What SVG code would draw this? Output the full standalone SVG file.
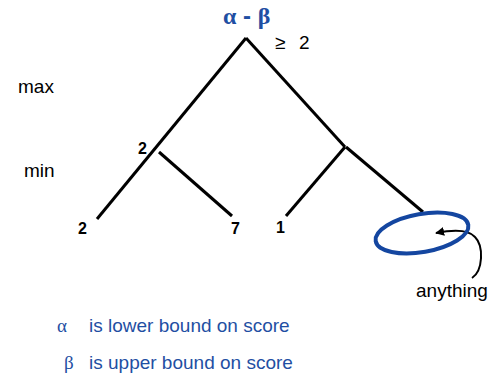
<svg xmlns="http://www.w3.org/2000/svg" width="498" height="376" viewBox="0 0 498 376">
<defs>
<style>
.edge{stroke:#000;stroke-width:3;fill:none;stroke-linecap:butt}
.lbl{font-family:"Liberation Sans",Arial,sans-serif;font-size:19px;fill:#000}
.num{font-family:"Liberation Sans",Arial,sans-serif;font-size:16px;font-weight:bold;fill:#000}
.blue{fill:#1f4fa3}
.greek{font-family:"Liberation Serif","Times New Roman",serif}
.sans{font-family:"Liberation Sans",Arial,sans-serif}
</style>
<marker id="ah" viewBox="0 0 10 10" refX="9" refY="5" markerWidth="9" markerHeight="9" markerUnits="userSpaceOnUse" orient="auto">
<path d="M0,0 L10,5 L0,10 Z" fill="#000"/>
</marker>
</defs>
<rect width="498" height="376" fill="#fff"/>
<g id="title">
<text x="223" y="24" font-size="24" font-weight="bold" class="blue"><tspan class="greek">α</tspan><tspan class="sans"> - </tspan><tspan class="greek">β</tspan></text>
</g>
<g id="connectors">
<path class="edge" d="M246,38 L97,219"/>
<path class="edge" d="M246,38 L345,147"/>
<path class="edge" d="M159,152 L232,216"/>
<path class="edge" d="M345,147 L286,216"/>
<path class="edge" d="M346,147 L423,212"/>
<path d="M472,278 C483,271 484,246 475,237 C469,230 456,229 436,233" fill="none" stroke="#000" stroke-width="2" marker-end="url(#ah)"/>
</g>
<g id="root">
<text x="275" y="49" class="lbl" font-size="17">≥</text>
<text x="299" y="49" class="lbl" font-size="16">2</text>
</g>
<g id="level-labels">
<text x="18" y="93" class="lbl" font-size="20.5">max</text>
<text x="24" y="177" class="lbl" font-size="20">min</text>
</g>
<g id="min-left"><text x="138" y="154" class="num">2</text></g>
<g id="min-right"></g>
<g id="leaf-1"><text x="78" y="234" class="num">2</text></g>
<g id="leaf-2"><text x="231" y="234" class="num">7</text></g>
<g id="leaf-3"><text x="276" y="233" class="num">1</text></g>
<g id="leaf-4">
<ellipse cx="422" cy="233" rx="47" ry="19" transform="rotate(-10 422 233)" fill="none" stroke="#1446a0" stroke-width="4"/>
<text x="416" y="297" class="lbl">anything</text>
</g>
<g id="legend">
<text x="57" y="332" class="blue greek" font-size="19">α</text>
<text x="89" y="332" class="lbl blue" font-size="20">is lower bound on score</text>
<text x="64" y="369" class="blue greek" font-size="19">β</text>
<text x="89" y="369" class="lbl blue" font-size="20">is upper bound on score</text>
</g>
</svg>
